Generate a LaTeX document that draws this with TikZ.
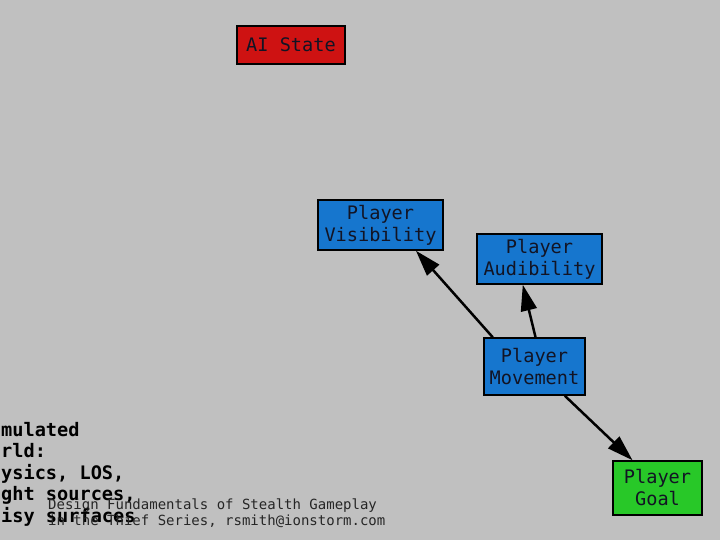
\documentclass[tikz,border=0pt]{standalone}
\usepackage{fontspec}
\setmonofont{DejaVu Sans Mono}
\usetikzlibrary{arrows.meta}
\definecolor{bggray}{RGB}{192,192,192}
\definecolor{aired}{RGB}{206,18,18}
\definecolor{plblue}{RGB}{22,118,206}
\definecolor{plgreen}{RGB}{40,200,40}
\definecolor{inktext}{RGB}{18,20,36}
\tikzset{
	box/.style={draw=black, line width=1.5pt, text=inktext, align=center,
		font=\fontsize{18.6}{22}\selectfont\ttfamily, inner sep=0pt},
	conn/.style={line width=2.5pt, -{Triangle[length=26pt,width=16pt]}},
	worldline/.style={anchor=base west, inner sep=0pt,
		font=\fontsize{18.6}{21.5}\selectfont\ttfamily\bfseries},
	footline/.style={anchor=base west, inner sep=0pt, text=black!85,
		font=\fontsize{14}{17}\selectfont\ttfamily}
}

\begin{document}
\begin{tikzpicture}[x=1pt,y=-1pt]
			\fill[bggray] (0,0) rectangle (720,540);
			\useasboundingbox (0,0) rectangle (720,540);

			\node[box, fill=aired, minimum width=108pt, minimum height=38pt] (ai) at (291,45) {AI State};
			\node[box, fill=plblue, minimum width=125pt, minimum height=50pt] (vis) at (380.5,225) {Player\\Visibility};
			\node[box, fill=plblue, minimum width=125pt, minimum height=50pt] (aud) at (539.5,259) {Player\\Audibility};
			\node[box, fill=plblue, minimum width=101pt, minimum height=57pt] (move) at (534.5,366.5) {Player\\Movement};
			\node[box, fill=plgreen, minimum width=89pt, minimum height=54pt] (goal) at (657.5,488) {Player\\Goal};

			\draw[conn] (move.145) -- (vis.-36);
			\draw[conn] (move.88) -- (aud.-123);
			\draw[conn] (move.-44) -- (goal.132);

			\foreach \txt [count=\i] in {mulated, rld:, {ysics, LOS,}, {ght sources,}, isy surfaces}
				\node[worldline, name=world\i] at (1,{436+21.5*(\i-1)}) {\txt};

			\node[footline] (foot1) at (48,509) {Design Fundamentals of Stealth Gameplay};
			\node[footline] (foot2) at (48,525.5) {in the Thief Series, rsmith@ionstorm.com};
		\end{tikzpicture}
\end{document}
